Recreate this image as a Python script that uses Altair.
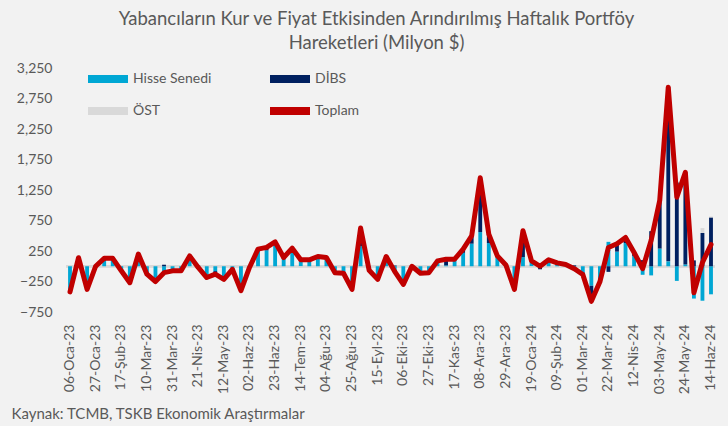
import altair as alt
import pandas as pd

WEEKS = [
    "06-Oca-23", "13-Oca-23", "20-Oca-23", "27-Oca-23", "03-Şub-23", "10-Şub-23", "17-Şub-23", "24-Şub-23",
    "03-Mar-23", "10-Mar-23", "17-Mar-23", "24-Mar-23", "31-Mar-23", "07-Nis-23", "14-Nis-23", "21-Nis-23",
    "28-Nis-23", "05-May-23", "12-May-23", "19-May-23", "26-May-23", "02-Haz-23", "09-Haz-23", "16-Haz-23",
    "23-Haz-23", "30-Haz-23", "07-Tem-23", "14-Tem-23", "21-Tem-23", "28-Tem-23", "04-Ağu-23", "11-Ağu-23",
    "18-Ağu-23", "25-Ağu-23", "01-Eyl-23", "08-Eyl-23", "15-Eyl-23", "22-Eyl-23", "29-Eyl-23", "06-Eki-23",
    "13-Eki-23", "20-Eki-23", "27-Eki-23", "03-Kas-23", "10-Kas-23", "17-Kas-23", "24-Kas-23", "01-Ara-23",
    "08-Ara-23", "15-Ara-23", "22-Ara-23", "29-Ara-23", "05-Oca-24", "12-Oca-24", "19-Oca-24", "26-Oca-24",
    "02-Şub-24", "09-Şub-24", "16-Şub-24", "23-Şub-24", "01-Mar-24", "08-Mar-24", "15-Mar-24", "22-Mar-24",
    "29-Mar-24", "05-Nis-24", "12-Nis-24", "19-Nis-24", "26-Nis-24", "03-May-24", "10-May-24", "17-May-24",
    "24-May-24", "31-May-24", "07-Haz-24", "14-Haz-24",
]

TICK_LABELS = [
    "06-Oca-23", "27-Oca-23", "17-Şub-23", "10-Mar-23", "31-Mar-23", "21-Nis-23", "12-May-23", "02-Haz-23",
    "23-Haz-23", "14-Tem-23", "04-Ağu-23", "25-Ağu-23", "15-Eyl-23", "06-Eki-23", "27-Eki-23", "17-Kas-23",
    "08-Ara-23", "29-Ara-23", "19-Oca-24", "09-Şub-24", "01-Mar-24", "22-Mar-24", "12-Nis-24", "03-May-24",
    "24-May-24", "14-Haz-24",
]

HISSE = [
    -390, 100, -330, 20, 90, 100, -60, -230, 120, -100,
    -190, -130, -60, -60, 100, -30, -150, -80, -170, -40,
    -320, -10, 240, 260, 340, 120, 230, 120, 100, 130,
    130, -80, -90, -340, 330, -50, -170, 120, -100, -250,
    20, -90, -80, 70, 15, 100, 220, 370, 560, 380,
    150, 30, -350, 150, 100, 50, 80, 40, 25, -55,
    -100, -320, -200, 400, 240, 380, 165, -140, -150, 290,
    80, -240, 30, -530, -565, -460,
]

DIBS = [
    -30, 40, -50, -20, 40, 30, -15, -40, 80, -30,
    -60, 25, -15, -15, 70, 10, -35, -50, -45, -10,
    -80, -10, 40, 50, 60, 23, 67, 5, 5, 30,
    13, -25, -25, -40, 297, -16, -45, 40, 12, -47,
    -20, -25, -25, 18, 100, 15, 60, 130, 860, 148,
    20, -8, -30, 433, 3, -50, 5, 15, 5, 15,
    -35, -255, -55, -92, 130, 93, 61, 100, 575, 788,
    2855, 1373, 1510, 96, 546, 800,
]

OST = [
    0, 0, 0, 0, 0, 0, 0, 0, 0, 0,
    0, 0, 0, 0, 0, 0, 0, 0, 0, 0,
    0, 0, 0, 0, 0, 0, 0, -20, 0, 0,
    0, 0, 0, 0, 0, 0, 0, 0, 0, 0,
    0, 0, 0, 0, 0, 0, 0, 0, 30, 0,
    0, 0, 0, 0, -15, 0, 20, 0, 0, 0,
    0, 0, 0, 0, 0, 0, 0, 0, 0, 0,
    0, 0, 0, 0, 80, 15,
]

TOPLAM = [
    -420, 140, -380, 0, 130, 130, -75, -270, 200, -130,
    -250, -105, -75, -75, 170, -20, -185, -130, -215, -50,
    -400, -20, 280, 310, 400, 143, 297, 105, 105, 160,
    143, -105, -115, -380, 627, -66, -215, 160, -88, -297,
    0, -115, -105, 88, 115, 115, 280, 500, 1450, 528,
    170, 22, -380, 583, 88, 0, 105, 55, 30, -40,
    -135, -575, -255, 308, 370, 473, 226, -40, 425, 1078,
    2935, 1133, 1540, -434, 61, 355,
]

SERIES = ["Hisse Senedi", "DİBS", "ÖST", "Toplam"]
COLORS = ["#00a7d4", "#002060", "#d9d9d9", "#c00000"]
Y_TICKS = [-750, -250, 250, 750, 1250, 1750, 2250, 2750, 3250]

rows = []
for i, w in enumerate(WEEKS):
    for k, (name, arr) in enumerate(zip(SERIES[:3], [HISSE, DIBS, OST])):
        rows.append({"week": w, "series": name, "idx": k, "value": arr[i]})
bars_df = pd.DataFrame(rows)
line_df = pd.DataFrame({"week": WEEKS, "toplam": TOPLAM})

FONT = "Lato"
TXT = "#595959"

x_enc = alt.X(
    "week:N",
    sort=WEEKS,
    scale=alt.Scale(paddingInner=0.55, paddingOuter=0.243),
    axis=alt.Axis(
        values=TICK_LABELS,
        labelAngle=-90,
        labelFontSize=14,
        labelFont=FONT,
        labelColor=TXT,
        labelPadding=12,
        domain=False,
        ticks=False,
        title="Kaynak: TCMB, TSKB Ekonomik Araştırmalar",
        titleFont=FONT,
        titleFontSize=15,
        titleFontWeight="normal",
        titleColor=TXT,
        titleX=-55,
        titleY=101,
        titleAlign="left",
        titleBaseline="middle",
        titleAngle=0,
    ),
)

y_scale = alt.Scale(domain=[-750, 3250], nice=False, zero=False)
y_axis = alt.Axis(
    values=Y_TICKS,
    format=",.0f",
    grid=False,
    domain=False,
    ticks=False,
    labelFont=FONT,
    labelFontSize=14,
    labelColor=TXT,
    labelPadding=14,
    title=None,
)

zero_rule = alt.Chart(line_df).mark_rule(color="#d9d9d9", strokeWidth=2).encode(
    y=alt.datum(0, scale=y_scale, axis=y_axis)
)

bars = alt.Chart(bars_df).mark_bar().encode(
    x=x_enc,
    y=alt.Y("value:Q", stack="zero", scale=y_scale, axis=y_axis),
    color=alt.Color(
        "series:N",
        scale=alt.Scale(domain=SERIES, range=COLORS),
        legend=alt.Legend(
            title=None,
            orient="none",
            direction="horizontal",
            legendX=22,
            legendY=-9,
            columns=2,
            columnPadding=58,
            rowPadding=5,
            symbolType="M-1,-0.2L1,-0.2L1,0.2L-1,0.2Z",
            symbolSize=1600,
            symbolStrokeWidth=0,
            labelFont=FONT,
            labelFontSize=14,
            labelColor=TXT,
            labelOffset=5,
        ),
    ),
    order=alt.Order("idx:Q"),
)

line = alt.Chart(line_df).mark_line(
    color="#c00000", strokeWidth=5, strokeJoin="round", strokeCap="round"
).encode(
    x=alt.X("week:N", sort=WEEKS),
    y=alt.Y("toplam:Q", scale=y_scale, axis=y_axis),
)

chart = (
    alt.layer(zero_rule, bars, line)
    .properties(
        width=649,
        height=244,
        background="#f2f2f2",
        padding={"left": 66, "top": 68, "right": 13, "bottom": 114},
        autosize=alt.AutoSizeParams(type="none"),
        title=alt.TitleParams(
            text=[
                "Yabancıların Kur ve Fiyat Etkisinden Arındırılmış Haftalık Portföy",
                "Hareketleri (Milyon $)",
            ],
            font=FONT,
            fontSize=18.5,
            fontWeight="normal",
            color=TXT,
            anchor="middle",
            offset=7,
            dx=-14,
            lineHeight=24,
        ),
    )
    .configure_view(stroke=None)
)

chart.save("out.html", embed_options={"renderer": "svg", "actions": False})
